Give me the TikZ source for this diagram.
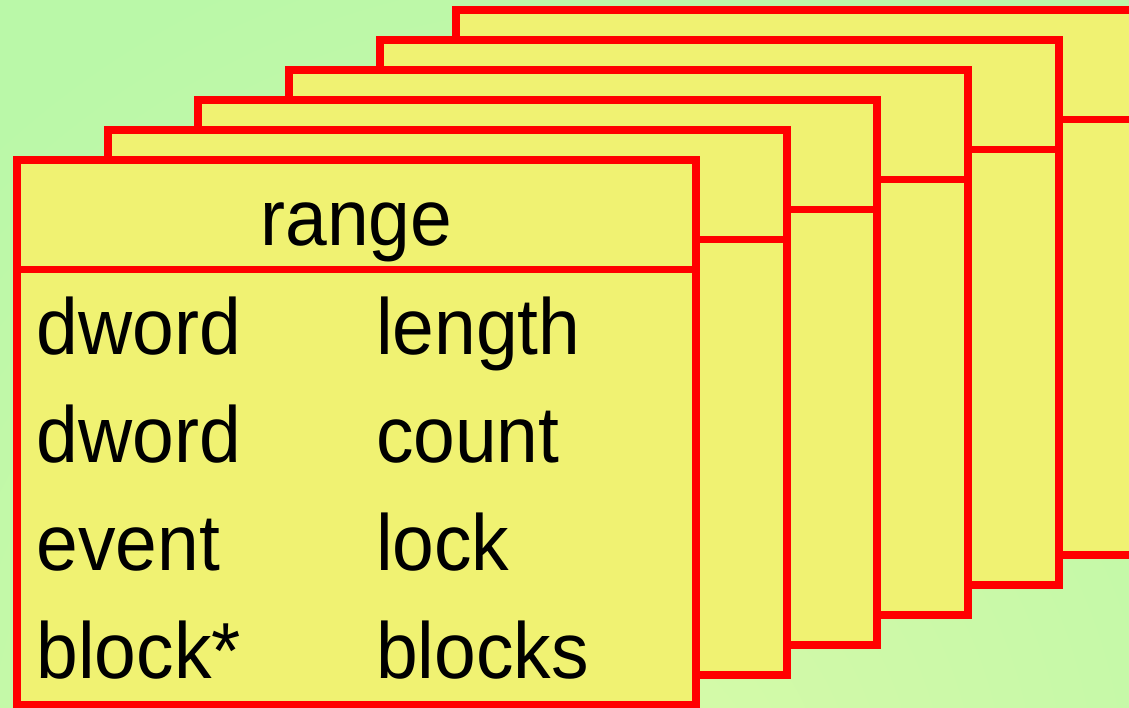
\documentclass[tikz,border=0pt]{standalone}
\usepackage{fontspec}
\setmainfont{Liberation Sans}
\usepackage{graphicx}
\definecolor{bggreen}{HTML}{BAF8A8}
\definecolor{bglight}{HTML}{D8FAA8}
\definecolor{cardyellow}{HTML}{F0F272}
\definecolor{cardred}{HTML}{FF0000}
\newcommand{\stretchtxt}[1]{\scalebox{1}[1.06]{#1}}
\begin{document}
\begin{tikzpicture}[x=1pt,y=-1pt,
  card/.style={fill=cardyellow,draw=cardred,line width=7.5pt,line join=miter},
  divider/.style={draw=cardred,line width=7.5pt},
  label/.style={inner sep=0pt,outer sep=0pt,font=\fontsize{75}{82}\selectfont,text=black}]
\useasboundingbox (0,0) rectangle (1129,707);
\clip (0,0) rectangle (1129,707);
\fill[bggreen] (0,0) rectangle (1129,707);
\shade[inner color=bglight,outer color=bggreen] (600,800) circle (900);
% cards from back to front
\foreach \i/\lx/\ty in {6/456/10,5/380/40,4/289/70,3/198/100,2/108/130,1/17/160}{
  \draw[card] (\lx,\ty) rectangle ++(679,545);
  \draw[divider] (\lx,\ty+109.5) -- ++(679,0);
}
\node[label,anchor=base] (title) at (356.5,245) {\stretchtxt{range}};
\node[label,anchor=base west] (t1) at (36.5,354) {\stretchtxt{dword}};
\node[label,anchor=base west] (n1) at (376,354) {\stretchtxt{length}};
\node[label,anchor=base west] (t2) at (36.5,462) {\stretchtxt{dword}};
\node[label,anchor=base west] (n2) at (376,462) {\stretchtxt{count}};
\node[label,anchor=base west] (t3) at (36.5,570) {\stretchtxt{event}};
\node[label,anchor=base west] (n3) at (376,570) {\stretchtxt{lock}};
\node[label,anchor=base west] (t4) at (36.5,678) {\stretchtxt{block*}};
\node[label,anchor=base west] (n4) at (376,678) {\stretchtxt{blocks}};
\end{tikzpicture}
\end{document}
